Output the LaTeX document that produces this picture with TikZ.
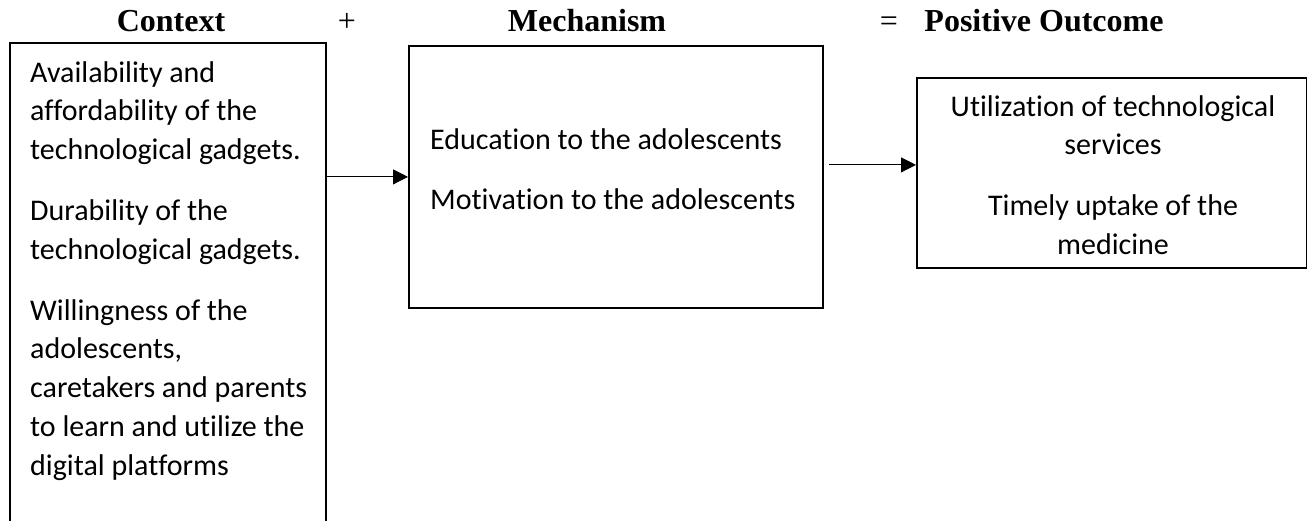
\documentclass[tikz,border=0pt]{standalone}
\usepackage{fontspec}
\setmainfont{Carlito}[Ligatures=NoCommon]
\newfontfamily\headfont{Liberation Serif}
\usetikzlibrary{positioning, arrows.meta}

\begin{document}
\begin{tikzpicture}[x=1pt, y=-1pt, >={Triangle[length=15pt,width=15pt]},
  box/.style={draw, line width=1.8pt, rectangle, anchor=north west, inner sep=0pt},
  body/.style={font=\fontsize{30}{38.8}\selectfont, inner sep=0pt, align=left},
  head/.style={font=\headfont\bfseries\fontsize{32}{38}\selectfont, inner sep=0pt, anchor=base},
  sign/.style={font=\headfont\fontsize{32}{38}\selectfont, inner sep=0pt, anchor=base},
  link/.style={->, line width=1pt}]
  \useasboundingbox (0,0) rectangle (1307,521);
  \clip (0,0) rectangle (1307,521);

  %% titles
  \node[head] (ctxhead) at (171,32) {Context};
  \node[sign] (plus) at (347,32) {+};
  \node[head] (mechhead) at (587,32) {Mechanism};
  \node[sign] (equals) at (889,32) {=};
  \node[head] (outhead) at (1044,32) {Positive Outcome};

  %% boxes
  \node[box, minimum width=316pt, minimum height=520pt] (ctx) at (9,42) {};
  \node[box, minimum width=414pt, minimum height=262pt] (mech) at (408,45) {};
  \node[box, minimum width=390pt, minimum height=190pt] (out) at (916,77) {};

  \node[body, anchor=north west] (ctxtext) at (30,61) {Availability and\\affordability of the\\technological gadgets.\\[22pt]
    Durability of the\\technological gadgets.\\[22pt]
    Willingness of the\\adolescents,\\caretakers and parents\\to learn and utilize the\\digital platforms};
  \node[body, anchor=north west] (mechtext) at (430,128) {Education to the adolescents\\[22pt]Motivation to the adolescents};
  \node[body, align=center, anchor=north] (outtext) at (1113,95) {Utilization of technological\\services\\[22pt]Timely uptake of the\\medicine};

  \path[link]
    (ctx.east |- mech.west) edge (mech.west)
    ([xshift=5pt,yshift=12pt]mech.east) edge ([yshift=8pt]out.west);
\end{tikzpicture}
\end{document}
